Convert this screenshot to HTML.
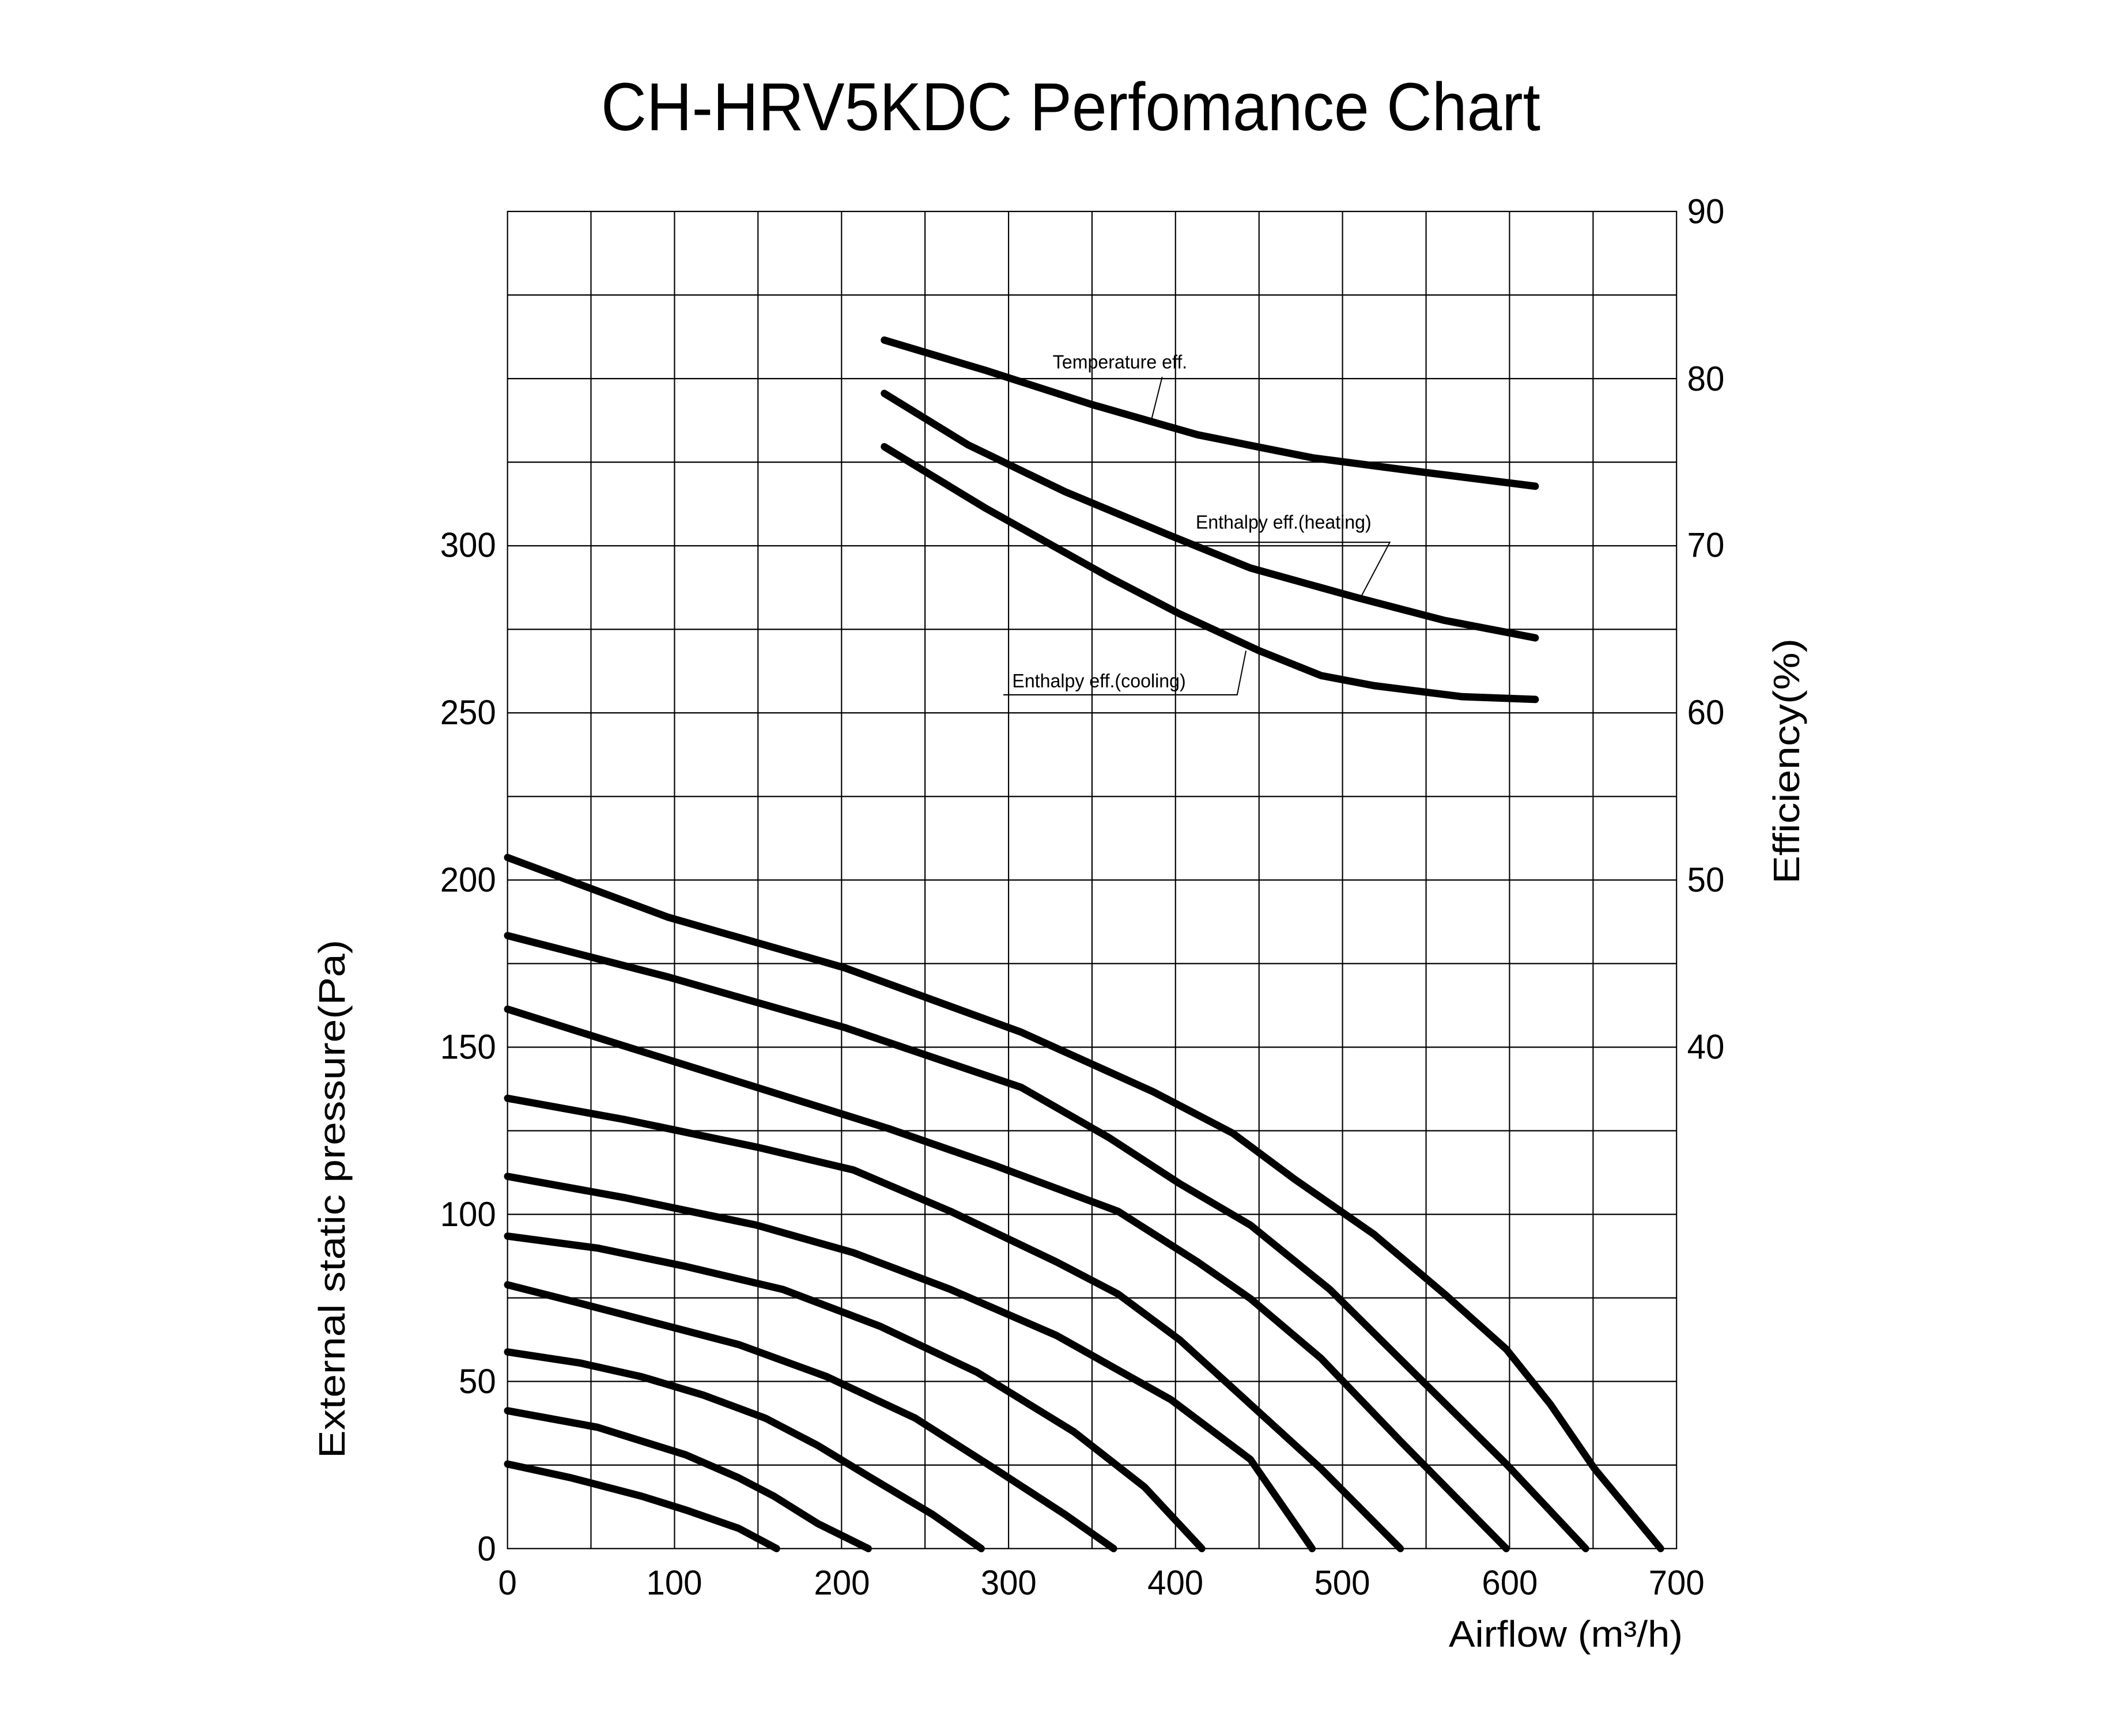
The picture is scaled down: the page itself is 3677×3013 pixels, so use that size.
<!DOCTYPE html>
<html><head><meta charset="utf-8"><style>html,body{margin:0;padding:0;background:#fff}</style></head>
<body>
<svg width="3677" height="3008" viewBox="0 0 3677 3008" xmlns="http://www.w3.org/2000/svg" font-family="Liberation Sans, sans-serif">
<rect width="3677" height="3008" fill="#fff"/>
<text x="1043" y="226" font-size="118" textLength="1630" lengthAdjust="spacingAndGlyphs">CH-HRV5KDC Perfomance Chart</text>
<text transform="translate(598,2081) rotate(-90)" text-anchor="middle" font-size="64" textLength="900" lengthAdjust="spacingAndGlyphs">External static pressure(Pa)</text>
<text transform="translate(3122,1321) rotate(-90)" text-anchor="middle" font-size="64" textLength="426" lengthAdjust="spacingAndGlyphs">Efficiency(%)</text>
<text x="2514" y="2858" font-size="64" textLength="406" lengthAdjust="spacingAndGlyphs">Airflow (m³/h)</text>
<g transform="translate(700,300) scale(1.531,1.595)">
<g stroke="#000" stroke-width="1.4" fill="none">
<rect x="118" y="42" width="1325" height="1455"/>
<path d="M212.6 42V1497M307.3 42V1497M401.9 42V1497M496.6 42V1497M591.2 42V1497M685.9 42V1497M780.5 42V1497M875.1 42V1497M969.8 42V1497M1064.4 42V1497M1159.1 42V1497M1253.7 42V1497M1348.4 42V1497"/>
<path d="M118 132.9H1443M118 223.9H1443M118 314.8H1443M118 405.8H1443M118 496.7H1443M118 587.6H1443M118 678.6H1443M118 769.5H1443M118 860.4H1443M118 951.4H1443M118 1042.3H1443M118 1133.3H1443M118 1224.2H1443M118 1315.1H1443M118 1406.1H1443"/>
</g>
<g stroke="#000" stroke-width="8" fill="none" stroke-linecap="round" stroke-linejoin="round">
<polyline points="545,182 660,215 780,252 900,285 1030,310 1150,325 1283,341"/>
<polyline points="545,240 640,296 750,347 870,395 960,430 1080,462 1180,487 1283,506"/>
<polyline points="545,298 660,365 800,440 880,480 970,520 1040,547 1100,558 1200,570 1283,573"/>
<polyline points="118,745 300,810 500,865 700,935 850,1000 940,1045 1010,1095 1100,1155 1180,1220 1250,1280 1300,1340 1350,1410 1425,1497"/>
<polyline points="118,830 300,875 500,930 700,995 800,1050 880,1100 960,1145 1050,1215 1150,1310 1250,1405 1340,1497"/>
<polyline points="118,910 250,950 400,995 550,1040 670,1080 810,1130 900,1185 960,1225 1040,1290 1130,1380 1250,1497"/>
<polyline points="118,1007 250,1030 400,1060 510,1085 620,1130 740,1185 810,1220 880,1270 960,1340 1040,1410 1130,1497"/>
<polyline points="118,1092 250,1115 400,1145 510,1175 620,1215 740,1265 870,1335 960,1400 1030,1497"/>
<polyline points="118,1157 220,1170 320,1190 430,1215 540,1255 650,1305 760,1370 840,1430 905,1497"/>
<polyline points="118,1210 200,1230 300,1255 380,1275 480,1310 580,1355 670,1410 750,1460 805,1497"/>
<polyline points="118,1283 200,1295 270,1310 340,1330 410,1355 470,1385 530,1420 600,1460 655,1497"/>
<polyline points="118,1347 220,1365 320,1395 380,1420 420,1440 470,1470 527,1497"/>
<polyline points="118,1405 190,1420 270,1440 320,1455 380,1475 423,1497"/>
</g>
<g stroke="#000" stroke-width="1.3" fill="none">
<path d="M860 222L848 268"/>
<path d="M880 402H1118L1085 462"/>
<path d="M680 568H945L955 520"/>
</g>
<g font-size="21">
<text x="736" y="213">Temperature eff.</text>
<text x="898" y="387">Enthalpy eff.(heating)</text>
<text x="690" y="560">Enthalpy eff.(cooling)</text>
</g>
<g font-size="38" text-anchor="end">
<text x="105" y="418">300</text>
<text x="105" y="600">250</text>
<text x="105" y="782">200</text>
<text x="105" y="964">150</text>
<text x="105" y="1146">100</text>
<text x="105" y="1328">50</text>
<text x="105" y="1510">0</text>
</g>
<g font-size="38">
<text x="1455" y="55">90</text>
<text x="1455" y="237">80</text>
<text x="1455" y="418">70</text>
<text x="1455" y="600">60</text>
<text x="1455" y="782">50</text>
<text x="1455" y="964">40</text>
</g>
<g font-size="38" text-anchor="middle">
<text x="118" y="1547">0</text>
<text x="307" y="1547">100</text>
<text x="497" y="1547">200</text>
<text x="686" y="1547">300</text>
<text x="875" y="1547">400</text>
<text x="1064" y="1547">500</text>
<text x="1254" y="1547">600</text>
<text x="1443" y="1547">700</text>
</g>
</g>
</svg>
</body></html>
